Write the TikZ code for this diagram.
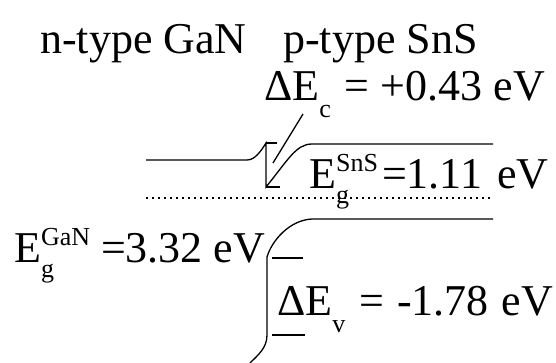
\documentclass[tikz,border=0pt]{standalone}
\usepackage{fontspec}
\setmainfont{Liberation Serif}
\usepackage{tikz}
\usetikzlibrary{positioning}
\newcommand{\lbl}{\fontsize{44}{48}\selectfont}
\newcommand{\idx}{\fontsize{26}{28}\selectfont}
\newcommand{\lo}[1]{\raisebox{-17pt}{\idx #1}}
\newcommand{\supsub}[2]{\rlap{\raisebox{17pt}{\idx #1}}\rlap{\raisebox{-15pt}{\idx #2}}\hphantom{\idx #1}}

\begin{document}
\begin{tikzpicture}[x=1pt, y=-1pt,
  band/.style={line width=1.3pt},
  fermi/.style={line width=2pt, dash pattern=on 2pt off 4pt},
  txt/.style={anchor=base west, inner sep=0pt, font=\lbl}]
\useasboundingbox (0,0) rectangle (556,362);
% labels
\node[txt] (ntype) at (40,53) {n-type GaN};
\node[txt] (ptype) at (283,53) {p-type SnS};
\node[txt] (dEc) at (264,100) {ΔE\lo{c}\hspace{3pt} = +0.43 eV};
\node[txt] (EgSnS) at (309,188) {E\supsub{SnS}{g}\hspace{4pt}=1.11\hspace{4pt} eV};
\node[txt] (EgGaN) at (14,262) {E\supsub{GaN}{g} =3.32 eV};
\node[txt] (dEv) at (277,315) {ΔE\lo{v}\hspace{3pt} = \hspace{2pt}-1.78\hspace{2pt} eV};
% conduction band
\coordinate (cbtop) at (266,143);
\coordinate (cbbot) at (266,187);
\draw[band] (146,160) -- (247,160) .. controls (255,160) and (261,151) .. (cbtop) -- (cbbot)
  .. controls (288,160) and (296,144) .. (312,144) -- (493,144);
\draw[band] (cbtop) -- ++(11,0);
\draw[band] (cbbot) -- ++(14,0);
\coordinate (ptr) at (303,114);
\draw[band] (ptr) -- (273,163);
% fermi level
\draw[fermi] (146,198) -- (493,198);
% valence band
\coordinate (vbtop) at (267,257);
\coordinate (vbbot) at (267,335);
\draw[band] (493,219) -- (312,219) .. controls (290,220) and (272,240) .. (vbtop) -- (vbbot)
  .. controls (267,348) and (258,355) .. (250,363);
\draw[band] (272,258) -- (303,258);
\draw[band] (272,335) -- (305,335);
\end{tikzpicture}
\end{document}
